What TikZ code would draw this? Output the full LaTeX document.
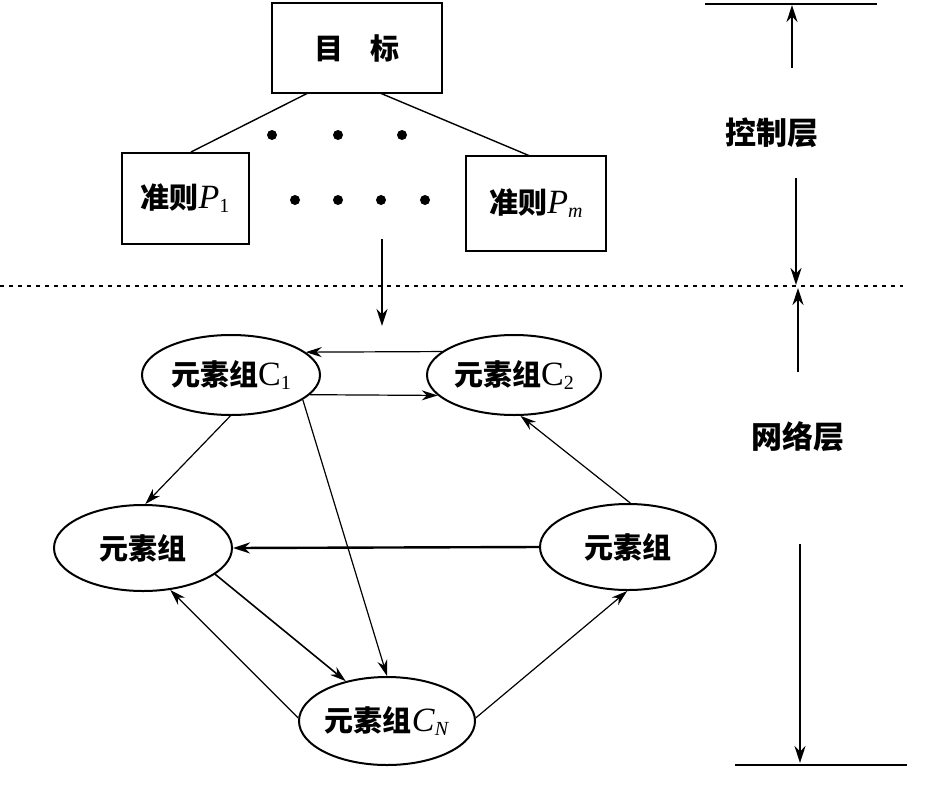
\documentclass[tikz,border=0pt]{standalone}
\usepackage{fontspec}
\setmainfont{Liberation Serif}
\newfontfamily\cjk{Noto Sans CJK SC}
\usetikzlibrary{shapes.geometric,arrows.meta}
\newcommand\mysub[1]{\raisebox{-0.3ex}{\fontsize{20}{20}\selectfont #1}}
\newcommand\lat[1]{{\normalfont\fontsize{34}{36}\selectfont #1}}
\begin{document}
\begin{tikzpicture}[x=1pt,y=-1pt,
  box/.style={draw,line width=2pt,inner sep=0pt,font=\fontsize{29}{32}\selectfont\cjk\bfseries},
  grp/.style={draw,ellipse,line width=2pt,inner sep=0pt,font=\fontsize{29}{32}\selectfont\cjk\bfseries},
  lay/.style={font=\fontsize{31}{34}\selectfont\cjk\bfseries},
  thin/.style={line width=1.2pt,-{Stealth[length=16pt,width=10pt]}},
  thick/.style={line width=2.4pt,-{Stealth[length=17pt,width=11pt]}},
  dot/.style={circle,fill,inner sep=0pt,minimum size=10pt}]
\useasboundingbox (0,0) rectangle (952,787);
% control layer
\node[box,minimum width=170pt,minimum height=90pt] (goal) at (357,48) {目\hspace{0.9em}标};
\node[box,minimum width=127pt,minimum height=91pt] (p1) at (185,198) {准则\lat{\textit{P}\mysub{1}}};
\node[box,minimum width=140pt,minimum height=95pt] (pm) at (536,203) {准则\lat{\textit{P}\mysub{\textit{m}}}};
\coordinate (g1) at (308,93);
\coordinate (g2) at (380,93);
\coordinate (p1t) at (191,152);
\coordinate (pmt) at (530,156);
\draw[line width=1.4pt] (g1) -- (p1t);
\draw[line width=1.4pt] (g2) -- (pmt);
\node[dot] (d1) at (272,135) {};
\node[dot] (d2) at (338,135) {};
\node[dot] (d3) at (402,135) {};
\node[dot] (d4) at (295,200) {};
\node[dot] (d5) at (338,200) {};
\node[dot] (d6) at (381,200) {};
\node[dot] (d7) at (425,200) {};
\coordinate (vs) at (382,239);
\coordinate (ve) at (382,326);
\draw[thick] (vs) -- (ve);
% dashed separator
\draw[line width=1.4pt,dash pattern=on 4pt off 5pt] (0,286) -- (903,286);
% network layer
\node[grp,minimum width=178pt,minimum height=80pt] (c1) at (231,375) {元素组\lat{C\mysub{1}}};
\node[grp,minimum width=174pt,minimum height=80pt] (c2) at (514,375) {元素组\lat{C\mysub{2}}};
\node[grp,minimum width=178pt,minimum height=86pt] (l) at (143,548) {元素组};
\node[grp,minimum width=176pt,minimum height=86pt] (r) at (628,547) {元素组};
\node[grp,minimum width=176pt,minimum height=88pt] (n) at (387,721) {元素组\lat{\textit{C}\mysub{\textit{N}}}};
\draw[thin] (c2.162) -- (c1.17.5);
\draw[thin] (c1.-14.6) -- (c2.-165);
\draw[thin] (c1.-91) -- (l.87);
\draw[thin] (c1.-19) -- (n.90);
\draw[thin] (r.87) -- (c2.-81);
\draw[thick] (r.180) -- (l.0);
\draw[thin,line width=1.6pt] (l.-20) -- (n.136);
\draw[thin] (n.178) -- (l.-57.5);
\draw[thin] (n.2) -- (r.-91);
% right side layer marks
\coordinate (tl1) at (705,4);
\coordinate (tl2) at (877,4);
\draw[line width=1.6pt] (tl1) -- (tl2);
\coordinate (bl1) at (735,765);
\coordinate (bl2) at (907,765);
\draw[line width=1.6pt] (bl1) -- (bl2);
\node[lay] (ctl) at (772,133) {控制层};
\node[lay] (net) at (798,437) {网络层};
\coordinate (a1s) at (792,68);
\coordinate (a1e) at (792,5);
\coordinate (a2s) at (796,178);
\coordinate (a2e) at (796,285);
\coordinate (a3s) at (798,372);
\coordinate (a3e) at (798,288);
\coordinate (a4s) at (800,544);
\coordinate (a4e) at (800,763);
\draw[thick,line width=2pt] (a1s) -- (a1e);
\draw[thick,line width=2pt] (a2s) -- (a2e);
\draw[thick,line width=2pt] (a3s) -- (a3e);
\draw[thick,line width=2pt] (a4s) -- (a4e);
\end{tikzpicture}
\end{document}
